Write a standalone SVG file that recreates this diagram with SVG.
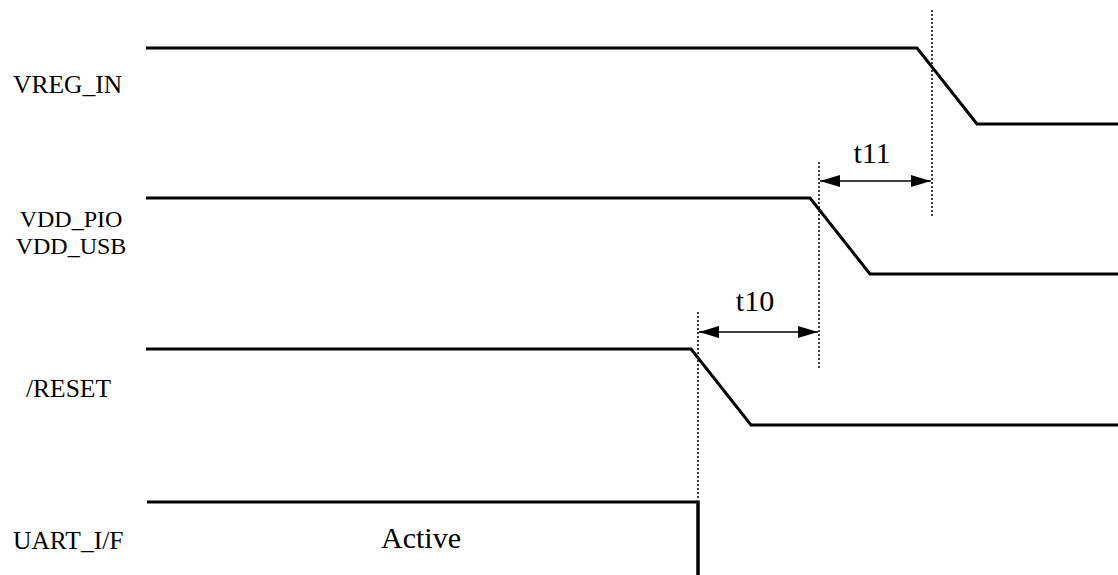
<svg xmlns="http://www.w3.org/2000/svg" width="1118" height="575" viewBox="0 0 1118 575">
<style>
text{font-family:"Liberation Serif","Times New Roman",serif;fill:#000}
.lbl{font-size:25.5px}
.lbl2{font-size:24px}
.big{font-size:30px}
.sig{fill:none;stroke:#000;stroke-width:3;stroke-linejoin:miter}
.dot{fill:none;stroke:#000;stroke-width:1.5;stroke-dasharray:2 2}
.dim{fill:none;stroke:#000;stroke-width:1.5}
</style>
<defs>
<marker id="ah" markerWidth="20" markerHeight="12" refX="20" refY="6" orient="auto-start-reverse" markerUnits="userSpaceOnUse">
<path d="M0,0 L20,6 L0,12 Z" fill="#000"/>
</marker>
</defs>
<rect width="1118" height="575" fill="#fff"/>
<g id="vreg_in">
<text class="lbl" x="13" y="93">VREG_IN</text>
<path class="sig" d="M146,48 H917 L977,124 H1118"/>
</g>
<g id="vdd">
<text class="lbl2" x="71" y="227" text-anchor="middle">VDD_PIO</text>
<text class="lbl2" x="71" y="254" text-anchor="middle">VDD_USB</text>
<path class="sig" d="M146,198 H810 L870,274 H1118"/>
</g>
<g id="reset">
<text class="lbl" x="26" y="397">/RESET</text>
<path class="sig" d="M146,349 H691 L751,425 H1118"/>
</g>
<g id="uart">
<text class="lbl" x="13" y="549">UART_I/F</text>
<text class="big" x="381" y="548">Active</text>
<path class="sig" d="M147,502 H697"/>
<path fill="none" stroke="#000" stroke-width="3.5" d="M698,500.5 V575"/>
</g>
<g id="connectors">
<line class="dot" x1="932" y1="10" x2="932" y2="218"/>
<line class="dot" x1="819" y1="162" x2="819" y2="370"/>
<line class="dot" x1="698" y1="312" x2="698" y2="500"/>
<line class="dim" x1="820" y1="181" x2="931" y2="181" marker-start="url(#ah)" marker-end="url(#ah)"/>
<line class="dim" x1="699" y1="332" x2="818" y2="332" marker-start="url(#ah)" marker-end="url(#ah)"/>
<text class="big" x="872" y="163" text-anchor="middle">t11</text>
<text class="big" x="755" y="311" text-anchor="middle">t10</text>
</g>
</svg>
